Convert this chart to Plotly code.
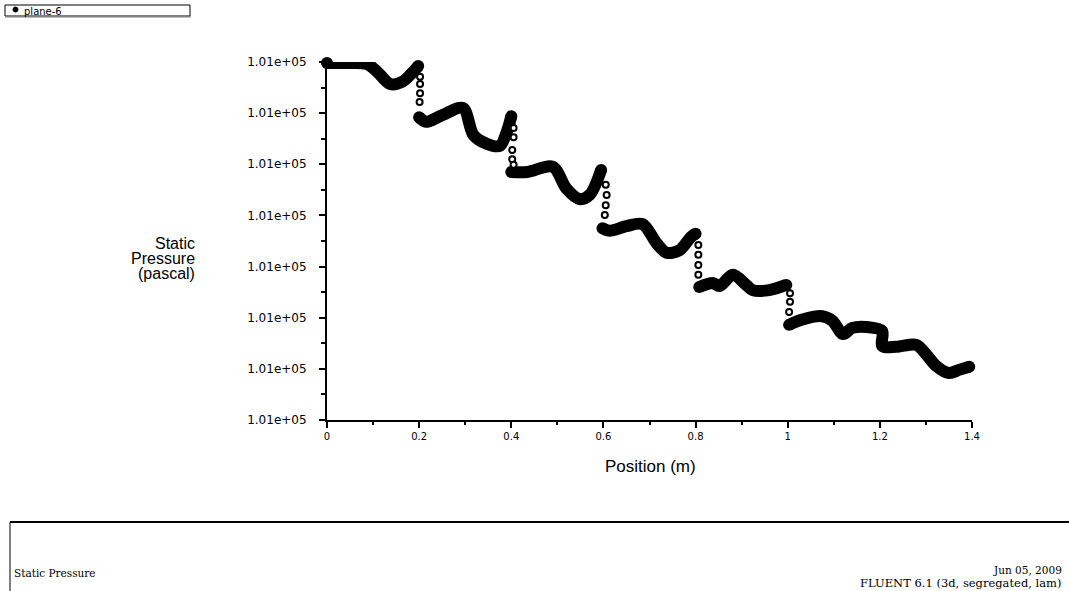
import plotly.graph_objects as go

# ---------------- data ----------------
# y values expressed as tick steps above the lowest labelled tick (pascal offset scale)
seg_pos = [
    [0.0, 0.04, 0.087, 0.11, 0.137, 0.163, 0.185, 0.198],
    [0.200, 0.215, 0.25, 0.295, 0.318, 0.347, 0.375, 0.39, 0.40],
    [0.40, 0.435, 0.49, 0.52, 0.548, 0.57, 0.595],
    [0.598, 0.613, 0.65, 0.685, 0.715, 0.737, 0.765, 0.79, 0.80],
    [0.808, 0.837, 0.852, 0.881, 0.91, 0.924, 0.96, 0.997],
    [1.003, 1.03, 1.075, 1.097, 1.12, 1.14, 1.17, 1.205, 1.205, 1.235, 1.279, 1.3, 1.322, 1.35, 1.372, 1.394],
]
seg_val = [
    [6.98, 6.98, 6.96, 6.80, 6.57, 6.61, 6.79, 6.92],
    [5.92, 5.83, 5.96, 6.10, 5.57, 5.40, 5.36, 5.63, 5.94],
    [4.85, 4.85, 4.95, 4.52, 4.32, 4.40, 4.89],
    [3.75, 3.70, 3.79, 3.83, 3.46, 3.27, 3.32, 3.58, 3.64],
    [2.60, 2.68, 2.62, 2.84, 2.64, 2.54, 2.54, 2.64],
    [1.86, 1.96, 2.03, 1.94, 1.68, 1.80, 1.82, 1.74, 1.45, 1.43, 1.47, 1.29, 1.06, 0.92, 0.98, 1.04],
]
drop_pos = [0.202, 0.202, 0.202, 0.201,
            0.405, 0.405, 0.402, 0.402, 0.405,
            0.605, 0.607, 0.605, 0.603,
            0.806, 0.806, 0.806, 0.806,
            1.005, 1.005, 1.003]
drop_val = [6.71, 6.57, 6.39, 6.22,
            5.71, 5.53, 5.28, 5.10, 4.99,
            4.60, 4.40, 4.20, 4.01,
            3.42, 3.23, 3.03, 2.84,
            2.48, 2.31, 2.11]

P0 = 101000.0       # base pressure (pascal)
STEP = 10.0         # pascal per tick interval
x_ticks = [0, 0.2, 0.4, 0.6, 0.8, 1, 1.2, 1.4]
x_ticktext = ["0", "0.2", "0.4", "0.6", "0.8", "1", "1.2", "1.4"]
y_ticks = [P0 + STEP * k for k in range(8)]
y_ticktext = ["1.01e+05"] * 8

# ---------------- figure ----------------
W, H = 1069, 591
L, R, T, B = 327, 972, 62, 420


def px(x):
    return (x - L) / (R - L)


def py(y):
    return (B - y) / (B - T)


fig = go.Figure()

line_x, line_y = [], []
end_x, end_y = [], []
for xs, vs in zip(seg_pos, seg_val):
    line_x += xs + [None]
    line_y += [P0 + STEP * v for v in vs] + [None]
    end_x += [xs[0], xs[-1]]
    end_y += [P0 + STEP * vs[0], P0 + STEP * vs[-1]]

fig.add_trace(go.Scatter(
    x=line_x, y=line_y, mode="lines",
    line=dict(color="black", width=12, shape="spline", smoothing=0.9),
    cliponaxis=False, showlegend=False, hoverinfo="skip"))

fig.add_trace(go.Scatter(
    x=end_x, y=end_y, mode="markers",
    marker=dict(size=12, color="black"),
    cliponaxis=False, showlegend=False, hoverinfo="skip"))

fig.add_trace(go.Scatter(
    x=drop_pos, y=[P0 + STEP * v for v in drop_val], mode="markers",
    marker=dict(size=6, color="white", line=dict(color="black", width=2)),
    cliponaxis=False, showlegend=False, hoverinfo="skip"))

axis_common = dict(showline=True, linecolor="black", linewidth=2, showgrid=False,
                   zeroline=False, ticks="outside", tickcolor="black", ticklen=6,
                   tickwidth=2)

fig.update_xaxes(range=[0, 1.4], tickvals=x_ticks, ticktext=x_ticktext,
                 tickfont=dict(family="DejaVu Sans", size=10, color="black"),
                 minor=dict(ticks="outside", dtick=0.1, ticklen=3, tickcolor="black", tickwidth=2),
                 **axis_common)
fig.update_yaxes(range=[P0, P0 + 7 * STEP], tickvals=y_ticks, ticktext=y_ticktext,
                 tickfont=dict(family="DejaVu Sans", size=12, color="black"),
                 ticklabelstandoff=10,
                 minor=dict(ticks="outside", dtick=STEP / 2, tick0=P0, ticklen=4,
                            tickcolor="black", tickwidth=2),
                 **axis_common)


def note(text, x, y, xanchor, family, size):
    return dict(text=text, x=px(x), y=py(y), xref="paper", yref="paper",
                xanchor=xanchor, yanchor="middle", showarrow=False,
                font=dict(family=family, size=size, color="black"))


annotations = [
    note("Position (m)", 650, 466, "center", "Liberation Sans", 17),
    note("Static", 197, 243, "right", "Liberation Sans", 16),
    note("Pressure", 197, 258, "right", "Liberation Sans", 16),
    note("(pascal)", 197, 273, "right", "Liberation Sans", 16),
    note("plane-6", 22, 11, "left", "DejaVu Sans", 10),
    note("Static Pressure", 12, 573, "left", "DejaVu Serif", 10.5),
    note("Jun 05, 2009", 1064, 570, "right", "DejaVu Serif", 10.5),
    note("FLUENT 6.1 (3d, segregated, lam)", 1064, 583, "right", "DejaVu Serif", 11.5),
]

shapes = [
    # legend box
    dict(type="rect", xref="paper", yref="paper", x0=px(5), x1=px(190), y0=py(5), y1=py(16),
         line=dict(color="black", width=1)),
    dict(type="line", xref="paper", yref="paper", x0=px(5), x1=px(191), y0=py(17), y1=py(17),
         line=dict(color="gray", width=1)),
    dict(type="circle", xref="paper", yref="paper", x0=px(13), x1=px(18), y0=py(7), y1=py(12),
         fillcolor="black", line=dict(color="black", width=1)),
    # bottom info box
    dict(type="line", xref="paper", yref="paper", x0=px(10), x1=px(1075), y0=py(522), y1=py(522),
         line=dict(color="black", width=2)),
    dict(type="line", xref="paper", yref="paper", x0=px(10), x1=px(10), y0=py(522), y1=py(595),
         line=dict(color="black", width=1)),
]

fig.update_layout(width=W, height=H, margin=dict(l=L, r=W - R, t=T, b=H - B),
                  paper_bgcolor="white", plot_bgcolor="white",
                  annotations=annotations, shapes=shapes, showlegend=False)

fig.write_html("out.html", config={"displayModeBar": False},
               post_script="document.body.style.margin='0';")
